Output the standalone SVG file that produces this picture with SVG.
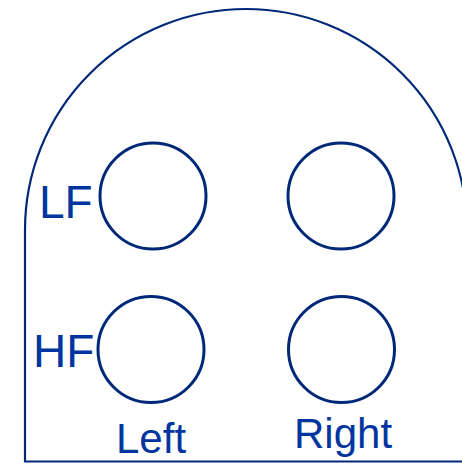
<svg xmlns="http://www.w3.org/2000/svg" width="462" height="464" viewBox="0 0 462 464">
<style>
.outline{fill:none;stroke:#002878;stroke-width:2.2}
.port{fill:none;stroke:#002878;stroke-width:3}
.lbl{font-family:"Liberation Sans",Arial,sans-serif;fill:#0035A0}
</style>
<rect width="462" height="464" fill="#ffffff"/>
<g id="housing">
<path class="outline" d="M 25 461.5 L 25 230 A 221 221 0 0 1 467 230 L 467 461.5 Z"/>
</g>
<g id="port-lf-left"><circle class="port" cx="153" cy="196" r="53"/></g>
<g id="port-lf-right"><circle class="port" cx="341" cy="196" r="53"/></g>
<g id="port-hf-left"><circle class="port" cx="151" cy="349.5" r="53"/></g>
<g id="port-hf-right"><circle class="port" cx="341.5" cy="349.5" r="53"/></g>
<g id="labels">
<text class="lbl" x="39" y="218" font-size="46">LF</text>
<text class="lbl" x="33" y="367" font-size="46">HF</text>
<text class="lbl" x="116" y="452.5" font-size="42">Left</text>
<text class="lbl" x="294" y="448" font-size="42">Right</text>
</g>
<g id="connectors"></g>
</svg>
